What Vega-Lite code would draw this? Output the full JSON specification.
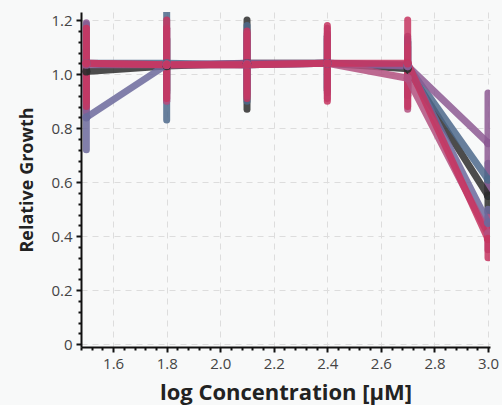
{
  "$schema": "https://vega.github.io/schema/vega-lite/v6.json",
  "width": 409,
  "height": 335,
  "autosize": {"type": "none"},
  "padding": {"left": 81, "top": 12, "right": 12, "bottom": 58},
  "background": "#f8f9f9",
  "config": {
    "view": {"stroke": null},
    "font": "Open Sans",
    "axis": {
      "labelFont": "Open Sans", "labelFontSize": 15, "labelColor": "#444444",
      "titleFont": "Open Sans", "titleFontSize": 19, "titleFontWeight": "bold", "titleColor": "#222222",
      "domainColor": "#111111", "domainWidth": 2, "tickColor": "#111111", "tickWidth": 2, "tickSize": 5,
      "gridColor": "#dddddd", "gridDash": [6, 5], "gridWidth": 1
    }
  },
  "data": {"values": [
    {"s": "A", "x": 1.5, "y": 1.01, "lo": 0.93, "hi": 1.09},
    {"s": "A", "x": 1.8, "y": 1.03, "lo": 0.93, "hi": 1.13},
    {"s": "A", "x": 2.1, "y": 1.04, "lo": 0.87, "hi": 1.2},
    {"s": "A", "x": 2.4, "y": 1.04, "lo": 0.94, "hi": 1.14},
    {"s": "A", "x": 2.7, "y": 1.02, "lo": 0.92, "hi": 1.12},
    {"s": "A", "x": 3.0, "y": 0.55, "lo": 0.49, "hi": 0.61},
    {"s": "B", "x": 1.5, "y": 1.04, "lo": 0.9, "hi": 1.185},
    {"s": "B", "x": 1.8, "y": 1.04, "lo": 0.83, "hi": 1.26},
    {"s": "B", "x": 2.1, "y": 1.035, "lo": 0.9, "hi": 1.18},
    {"s": "B", "x": 2.4, "y": 1.04, "lo": 0.94, "hi": 1.14},
    {"s": "B", "x": 2.7, "y": 1.03, "lo": 0.93, "hi": 1.13},
    {"s": "B", "x": 3.0, "y": 0.61, "lo": 0.55, "hi": 0.67},
    {"s": "C", "x": 1.5, "y": 0.84, "lo": 0.72, "hi": 0.96},
    {"s": "C", "x": 1.8, "y": 1.035, "lo": 0.94, "hi": 1.13},
    {"s": "C", "x": 2.1, "y": 1.035, "lo": 0.95, "hi": 1.12},
    {"s": "C", "x": 2.4, "y": 1.04, "lo": 0.95, "hi": 1.13},
    {"s": "C", "x": 2.7, "y": 1.035, "lo": 0.95, "hi": 1.12},
    {"s": "C", "x": 3.0, "y": 0.45, "lo": 0.4, "hi": 0.5},
    {"s": "D", "x": 1.5, "y": 1.035, "lo": 0.86, "hi": 1.19},
    {"s": "D", "x": 1.8, "y": 1.035, "lo": 0.9, "hi": 1.17},
    {"s": "D", "x": 2.1, "y": 1.04, "lo": 0.93, "hi": 1.15},
    {"s": "D", "x": 2.4, "y": 1.04, "lo": 0.93, "hi": 1.15},
    {"s": "D", "x": 2.7, "y": 1.03, "lo": 0.92, "hi": 1.14},
    {"s": "D", "x": 3.0, "y": 0.745, "lo": 0.56, "hi": 0.93},
    {"s": "E", "x": 1.5, "y": 1.04, "lo": 0.9, "hi": 1.17},
    {"s": "E", "x": 1.8, "y": 1.035, "lo": 0.9, "hi": 1.17},
    {"s": "E", "x": 2.1, "y": 1.035, "lo": 0.92, "hi": 1.15},
    {"s": "E", "x": 2.4, "y": 1.04, "lo": 0.91, "hi": 1.17},
    {"s": "E", "x": 2.7, "y": 0.985, "lo": 0.87, "hi": 1.1},
    {"s": "E", "x": 3.0, "y": 0.41, "lo": 0.35, "hi": 0.47},
    {"s": "F", "x": 1.5, "y": 1.04, "lo": 0.88, "hi": 1.17},
    {"s": "F", "x": 1.8, "y": 1.035, "lo": 0.91, "hi": 1.2},
    {"s": "F", "x": 2.1, "y": 1.035, "lo": 0.91, "hi": 1.16},
    {"s": "F", "x": 2.4, "y": 1.04, "lo": 0.9, "hi": 1.18},
    {"s": "F", "x": 2.7, "y": 1.04, "lo": 0.88, "hi": 1.2},
    {"s": "F", "x": 3.0, "y": 0.39, "lo": 0.32, "hi": 0.45}
  ]},
  "encoding": {
    "color": {"field": "s", "type": "nominal", "legend": null,
      "scale": {"domain": ["A", "B", "C", "D", "E", "F"], "range": ["#2e2e2e", "#4e6a8c", "#6c6a9c", "#8d5a93", "#b3507f", "#c53560"]}}
  },
  "layer": [
    {
      "mark": {"type": "rule", "strokeWidth": 7, "strokeCap": "round", "opacity": 0.85, "clip": true},
      "encoding": {
        "x": {"field": "x", "type": "quantitative", "scale": {"domain": [1.48, 3.0075], "nice": false, "zero": false},
          "axis": {"title": "log Concentration [μM]", "titleFontSize": 22, "values": [1.6, 1.8, 2.0, 2.2, 2.4, 2.6, 2.8, 3.0], "format": ".1f", "grid": true, "titlePadding": 11, "labelPadding": 4}},
        "y": {"field": "lo", "type": "quantitative", "scale": {"domain": [-0.01, 1.23], "nice": false, "zero": false},
          "axis": {"title": "Relative Growth", "titleFontSize": 18, "values": [0, 0.2, 0.4, 0.6, 0.8, 1.0, 1.2], "labelExpr": "datum.value == 0 ? '0' : format(datum.value, '.1f')", "grid": true, "titlePadding": 14, "labelPadding": 4}},
        "y2": {"field": "hi"}
      }
    },
    {
      "mark": {"type": "line", "strokeWidth": 7, "opacity": 0.85, "clip": true},
      "encoding": {
        "x": {"field": "x", "type": "quantitative",
          "axis": {"orient": "bottom", "title": null, "labels": false, "domain": false, "grid": false, "tickSize": 3,
            "values": [1.48, 1.52, 1.56, 1.64, 1.68, 1.72, 1.76, 1.84, 1.88, 1.92, 1.96, 2.04, 2.08, 2.12, 2.16, 2.24, 2.28, 2.32, 2.36, 2.44, 2.48, 2.52, 2.56, 2.64, 2.68, 2.72, 2.76, 2.84, 2.88, 2.92, 2.96]}},
        "y": {"field": "y", "type": "quantitative",
          "axis": {"orient": "left", "title": null, "labels": false, "domain": false, "grid": false, "tickSize": 3,
            "values": [0.04, 0.08, 0.12, 0.16, 0.24, 0.28, 0.32, 0.36, 0.44, 0.48, 0.52, 0.56, 0.64, 0.68, 0.72, 0.76, 0.84, 0.88, 0.92, 0.96, 1.04, 1.08, 1.12, 1.16, 1.24]}}
      }
    },
    {
      "mark": {"type": "point", "filled": true, "size": 70, "opacity": 0.9, "clip": true},
      "encoding": {
        "x": {"field": "x", "type": "quantitative", "axis": null},
        "y": {"field": "y", "type": "quantitative", "axis": null}
      }
    }
  ],
  "resolve": {"axis": {"x": "independent", "y": "independent"}}
}
